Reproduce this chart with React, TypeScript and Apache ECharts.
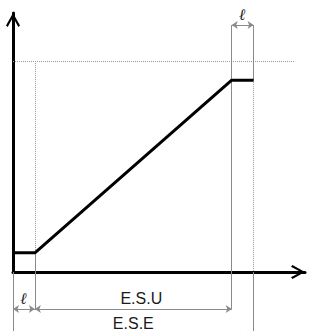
import React, { useEffect, useRef } from "react";
import * as echarts from "echarts";

// Curve: x in units of ℓ, y in % of the upper plateau
const curveX = [0, 1, 10, 11];
const curveY = [10, 10, 100, 100];

// Reference levels
const X_MAX = 13.35;
const Y_MAX = 135;
const TOP_REF_Y = 110; // dotted horizontal reference
const TOP_REF_END_X = 12.9;
const DIM_TOP_Y = 128.7; // upper ℓ dimension line
const DIM_BOTTOM_Y = -19.3; // ℓ / E.S.U dimension line
const DIM_ESE_Y = -32.6; // E.S.E dimension line (just below the picture)
const BOTTOM_Y = -31;

// Dimension spans
const dimNames = ["ℓ", "E.S.U", "ℓ", "E.S.E"];
const dimFrom = [0, 1, 10, 0];
const dimTo = [1, 10, 11, 11];
const dimLevel = [DIM_BOTTOM_Y, DIM_BOTTOM_Y, DIM_TOP_Y, DIM_ESE_Y];

const GRAY = "#8a8a8a";
const DOT = "#9a9a9a";
const chevron = "path://M7,0 L14,12.6 L12.3,14 L7,4.2 L1.7,14 L0,12.6 Z";

export default function App() {
  const ref = useRef<HTMLDivElement>(null);
  useEffect(() => {
    if (!ref.current) return;
    const chart = echarts.init(ref.current, undefined, { renderer: "svg" });
    const solid = { color: GRAY, width: 1, type: "solid" as const, opacity: 1 };
    const dotted = { color: DOT, width: 1, type: "dotted" as const, opacity: 1 };
    const seg = (x1: number, y1: number, x2: number, y2: number, ls: any) => ({
      coords: [
        [x1, y1],
        [x2, y2],
      ],
      lineStyle: ls,
    });
    const extLines = [
      seg(0, TOP_REF_Y, TOP_REF_END_X, TOP_REF_Y, dotted),
      seg(curveX[1], TOP_REF_Y, curveX[1], curveY[1], dotted),
      seg(curveX[1], curveY[1], curveX[1], DIM_BOTTOM_Y, solid),
      seg(curveX[2], DIM_TOP_Y, curveX[2], DIM_BOTTOM_Y, solid),
      seg(curveX[3], DIM_TOP_Y, curveX[3], curveY[3], solid),
      seg(curveX[3], curveY[3], curveX[3], 0, dotted),
      seg(curveX[3], 0, curveX[3], BOTTOM_Y, solid),
      seg(0, 0, 0, BOTTOM_Y, solid),
    ];
    const dims = dimNames.map((n, i) => ({
      name: n,
      coords: [
        [dimFrom[i], dimLevel[i]],
        [dimTo[i], dimLevel[i]],
      ],
      label:
        n === "ℓ"
          ? { fontFamily: "DejaVu Serif", fontStyle: "italic", fontWeight: "bold", fontSize: 16, distance: 3 }
          : n === "E.S.U"
          ? { offset: [8, 0] }
          : undefined,
    }));
    const axisCommon = {
      type: "value" as const,
      axisTick: { show: false },
      axisLabel: { show: false },
      splitLine: { show: false },
    };
    chart.setOption({
      animation: false,
      backgroundColor: "#fff",
      grid: { left: 13, top: 13, right: 4, bottom: 59 },
      xAxis: {
        ...axisCommon,
        min: 0,
        max: X_MAX,
        axisLine: {
          show: true,
          lineStyle: { color: "#000", width: 3 },
          symbol: ["none", chevron],
          symbolSize: [14, 14],
          symbolOffset: [0, -7],
        },
      },
      yAxis: {
        ...axisCommon,
        min: 0,
        max: Y_MAX,
        axisLine: {
          show: true,
          lineStyle: { color: "#000", width: 3 },
          symbol: ["none", chevron],
          symbolSize: [14, 14],
          symbolOffset: [0, -7],
        },
      },
      series: [
        {
          type: "lines",
          coordinateSystem: "cartesian2d",
          clip: false,
          silent: true,
          symbol: "none",
          lineStyle: { opacity: 1 },
          data: extLines,
          z: 1,
        },
        {
          type: "lines",
          coordinateSystem: "cartesian2d",
          clip: false,
          silent: true,
          symbol: ["arrow", "arrow"],
          symbolSize: 6,
          lineStyle: { color: GRAY, width: 1, opacity: 1 },
          label: {
            show: true,
            position: "middle",
            formatter: "{b}",
            color: "#1a1a1a",
            fontFamily: "Liberation Sans",
            fontSize: 16,
            distance: 3,
          },
          data: dims,
          z: 2,
        },
        {
          type: "line",
          data: curveX.map((x, i) => [x, curveY[i]]),
          showSymbol: false,
          lineStyle: { color: "#000", width: 3 },
          z: 3,
        },
      ],
    });
    return () => chart.dispose();
  }, []);
  return (
    <div
      ref={ref}
      style={{ position: "fixed", left: 0, top: 0, width: 309, height: 331, background: "#fff" }}
    />
  );
}
